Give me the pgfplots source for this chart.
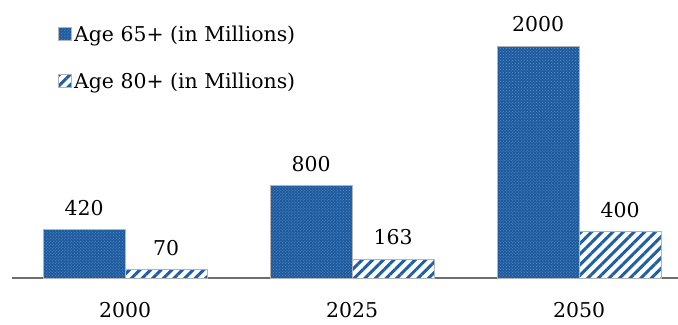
\documentclass[border=0pt]{standalone}
\usepackage{fontspec}
\setmainfont{DejaVu Serif}
\usepackage{pgfplots}
\pgfplotsset{compat=1.18}
\usetikzlibrary{patterns,patterns.meta}
\definecolor{barblue}{HTML}{1F5A9C}
\definecolor{dotblue}{HTML}{5A93D0}
\definecolor{stripe}{HTML}{1F5FA6}
\definecolor{edge}{HTML}{B4B4B4}
\definecolor{axisgray}{HTML}{6E6E6E}
\begin{document}
\begin{tikzpicture}
\begin{axis}[name=ax, scale only axis, width=666bp, height=278bp,
 xmin=-0.498, xmax=2.436, ymin=0, ymax=2397,
 ybar=0pt, bar width=82bp,
 xtick={0,1,2}, xticklabels={2000,2025,2050},
 hide y axis, axis x line*=bottom,
 axis line style={draw=axisgray, line width=1.5bp},
 major tick length=0pt,
 xticklabel style={font=\fontsize{20.5}{24}\selectfont, yshift=-21bp},
 /pgf/number format/assume math mode=true,
 /pgf/number format/1000 sep={},
 nodes near coords,
 nodes near coords style={font=\fontsize{20.5}{24}\selectfont, yshift=10bp, text=black},
 clip=false,
 legend style={at={(0.069,0.915)}, anchor=north west, draw=none, fill=none,
   inner sep=0pt, font=\fontsize{20.5}{24}\selectfont, row sep=26bp,
   /tikz/every even column/.append style={column sep=3bp}},
 legend cell align=left,
 legend image code/.code={\draw[#1] (0bp,-6.5bp) rectangle (13bp,6.5bp);},
]
\addplot[draw=edge, line width=1bp, fill=barblue,
  postaction={pattern=crosshatch dots, pattern color=dotblue}]
  coordinates {(0,420) (1,800) (2,2000)};
\addlegendentry{Age 65+ (in Millions)}
\addplot[draw=edge, line width=1bp, fill=white,
  postaction={pattern={Lines[angle=45,distance=7.5bp,line width=3bp]}, pattern color=stripe}]
  coordinates {(0,70) (1,163) (2,400)};
\addlegendentry{Age 80+ (in Millions)}
\end{axis}
\pgfresetboundingbox
\path[use as bounding box] ([xshift=-12bp,yshift=-47bp]ax.south west) rectangle ([yshift=0bp]ax.north east);
\end{tikzpicture}
\end{document}
